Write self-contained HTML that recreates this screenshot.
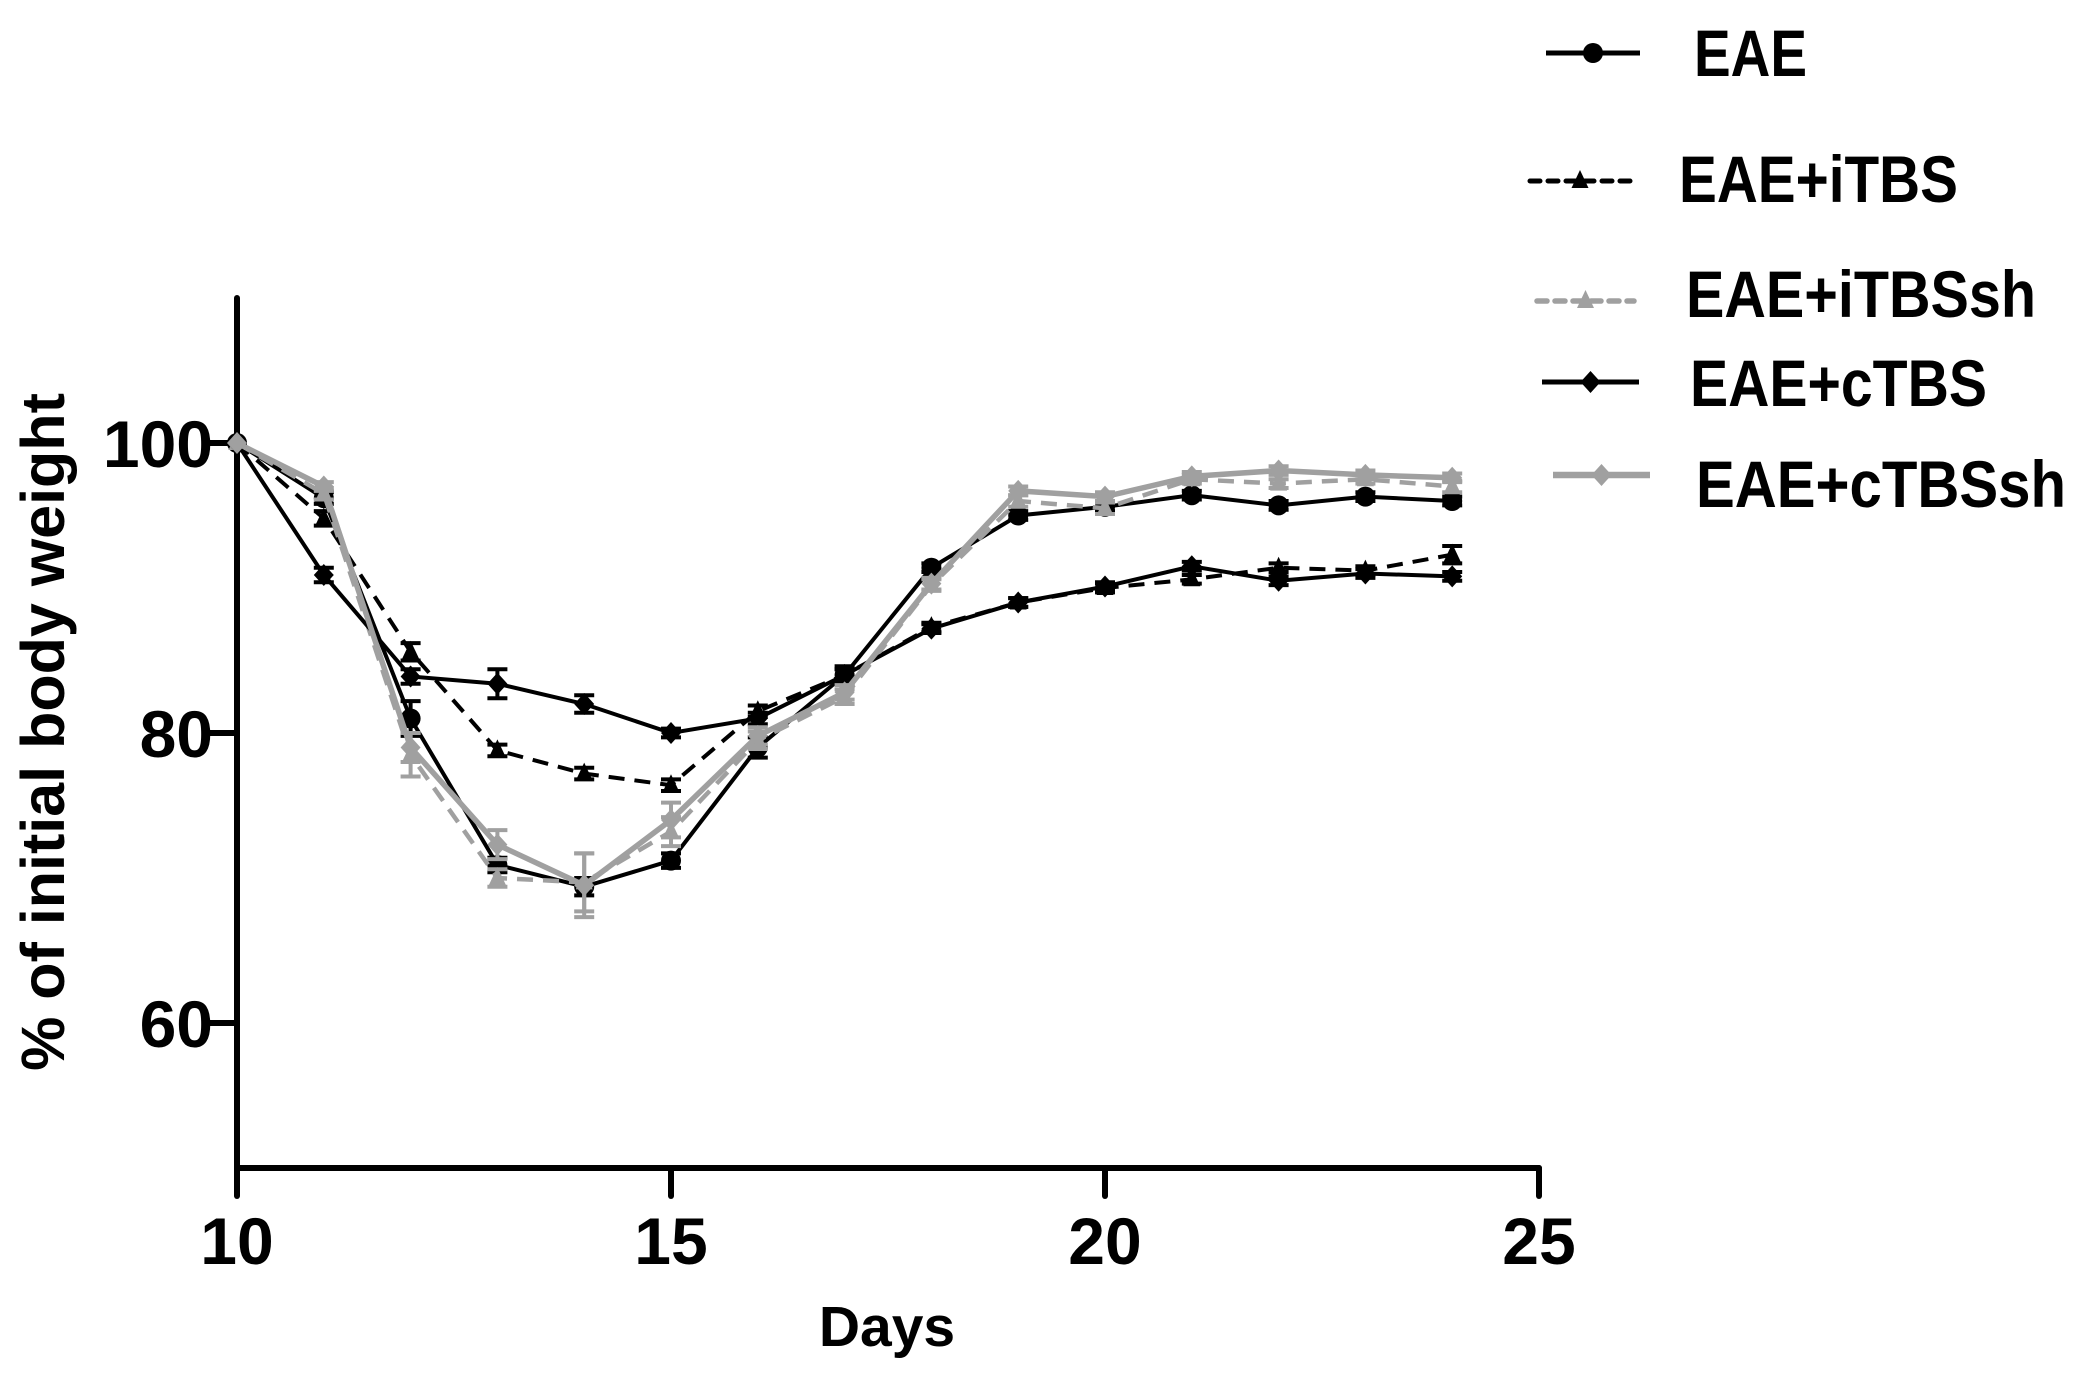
<!DOCTYPE html>
<html><head><meta charset="utf-8"><style>
html,body{margin:0;padding:0;background:#fff;}
svg{display:block;font-family:"Liberation Sans",Arial,sans-serif;font-weight:bold;}
</style></head><body>
<svg id="chart" width="2086" height="1384" viewBox="0 0 2086 1384" xmlns="http://www.w3.org/2000/svg">
<g id="axes"></g>
<g id="series"></g>
<g id="legend"></g>
</svg>
<script>
const days = [10,11,12,13,14,15,16,17,18,19,20,21,22,23,24];
const eae = [100,96.2,81.0,70.9,69.4,71.2,79.0,84.0,91.4,95.0,95.6,96.4,95.7,96.3,96.0];
const eaeErr = [0,0.4,1.2,0.5,0.6,0.5,0.7,0.6,0.3,0.3,0.3,0.3,0.3,0.3,0.3];
const itbs = [100,94.8,85.6,78.8,77.2,76.4,81.5,84.0,87.3,89.0,90.0,90.6,91.4,91.2,92.3];
const itbsErr = [0,0.5,0.6,0.4,0.4,0.4,0.4,0.4,0.3,0.3,0.3,0.3,0.3,0.3,0.6];
const itbssh = [100,96.5,78.5,70.0,69.7,73.2,79.5,82.5,90.2,96.0,95.5,97.5,97.2,97.5,97.0];
const itbsshErr = [0,0.4,1.5,0.6,2.0,1.0,0.6,0.5,0.4,0.4,0.4,0.3,0.3,0.3,0.4];
const ctbs = [100,90.9,83.9,83.4,82.0,80.0,81.0,84.0,87.2,89.0,90.1,91.5,90.5,91.0,90.8];
const ctbsErr = [0,0.5,0.5,1.0,0.6,0.3,0.4,0.4,0.3,0.3,0.3,0.3,0.3,0.3,0.3];
const ctbssh = [100,97.0,79.0,72.3,69.5,74.0,79.8,82.8,90.3,96.7,96.3,97.7,98.1,97.8,97.6];
const ctbsshErr = [0,0.3,1.0,1.0,2.2,1.2,0.6,0.5,0.4,0.3,0.3,0.3,0.3,0.3,0.3];
const xTicks = [10,15,20,25];
const yTicks = [60,80,100];
const seriesNames = ["EAE","EAE+iTBS","EAE+iTBSsh","EAE+cTBS","EAE+cTBSsh"];

const NS="http://www.w3.org/2000/svg";
const X0=237, PXD=86.8, Y100=443, PXU=14.5;
function xs(d){return X0+(d-10)*PXD;}
function ys(v){return Y100-(v-100)*PXU;}
function mk(tag,attrs,parent){const e=document.createElementNS(NS,tag);for(const k in attrs)e.setAttribute(k,attrs[k]);parent.appendChild(e);return e;}

const axes=document.getElementById('axes');
let yl=mk('line',{x1:X0,y1:ys(110),x2:X0,y2:ys(50)+3,stroke:'#000','stroke-width':6,'stroke-linecap':'round'},axes);


let xl=mk('line',{x1:X0,y1:ys(50),x2:xs(25),y2:ys(50),stroke:'#000','stroke-width':6,'stroke-linecap':'round'},axes);


yTicks.forEach(v=>{
  let t=mk('line',{x1:X0-28,y1:ys(v),x2:X0,y2:ys(v),stroke:'#000','stroke-width':6,'stroke-linecap':'round'},axes);
  
  
  let l=mk('text',{x:213,y:ys(v)+24,'font-size':66,'text-anchor':'end'},axes);
  l.textContent=v;
  
  
});
xTicks.forEach(d=>{
  let t=mk('line',{x1:xs(d),y1:ys(50),x2:xs(d),y2:ys(50)+28,stroke:'#000','stroke-width':6,'stroke-linecap':'round'},axes);
  
  
  let l=mk('text',{x:xs(d),y:1264,'font-size':66,'text-anchor':'middle'},axes);
  l.textContent=d;
  
  
});
let xt=mk('text',{x:887,y:1346,'font-size':57,'text-anchor':'middle'},axes);
xt.textContent='Days';


let yt=mk('text',{x:0,y:0,'font-size':61,'text-anchor':'middle',transform:'translate(64,732) rotate(-90)'},axes);
yt.textContent='% of initial body weight';



function marker(g,type,cx,cy,color,s){
  let e;
  if(type==='circle') e=mk('circle',{cx:cx,cy:cy,r:s,fill:color},g);
  else if(type==='tri') e=mk('polygon',{points:`${cx},${cy-s*1.1} ${cx-s*0.85},${cy+s*0.7} ${cx+s*0.85},${cy+s*0.7}`,fill:color},g);
  else e=mk('polygon',{points:`${cx},${cy-s*1.1} ${cx+s},${cy} ${cx},${cy+s*1.1} ${cx-s},${cy}`,fill:color},g);
  return e;
}
const defs=[
 {vals:eae,err:eaeErr,color:'#000',dash:null,m:'circle',w:4,name:'series-eae'},
 {vals:itbs,err:itbsErr,color:'#000',dash:'16 10',m:'tri',w:4,name:'series-eae-itbs'},
 {vals:itbssh,err:itbsshErr,color:'#a0a0a0',dash:'16 10',m:'tri',w:4.5,name:'series-eae-itbssh'},
 {vals:ctbs,err:ctbsErr,color:'#000',dash:null,m:'dia',w:4,name:'series-eae-ctbs'},
 {vals:ctbssh,err:ctbsshErr,color:'#a0a0a0',dash:null,m:'dia',w:5.5,name:'series-eae-ctbssh'}
];
const sroot=document.getElementById('series');
defs.forEach(s=>{
  const g=mk('g',{},sroot);
  
  
  s.vals.forEach((v,i)=>{
    const e=s.err[i]; if(e<=0.05) return;
    const x=xs(days[i]);
    let eb=mk('path',{d:`M${x},${ys(v+e)}V${ys(v-e)}M${x-10},${ys(v+e)}H${x+10}M${x-10},${ys(v-e)}H${x+10}`,stroke:s.color,'stroke-width':4,fill:'none'},g);
    
    
  });
  const pts=s.vals.map((v,i)=>xs(days[i])+','+ys(v)).join(' ');
  const attrs={points:pts,fill:'none',stroke:s.color,'stroke-width':s.w};
  if(s.dash) attrs['stroke-dasharray']=s.dash;
  let pl=mk('polyline',attrs,g);
  
  
  s.vals.forEach((v,i)=>{
    let p=marker(g,s.m,xs(days[i]),ys(v),s.color,10);
    
    
  });
});

const leg=document.getElementById('legend');
const legPos=[
 {x1:1546,x2:1640,y:53,tx:1694,ty:76,tw:113},
 {x1:1530,x2:1630,y:181,tx:1679,ty:202,tw:279},
 {x1:1537,x2:1634,y:301,tx:1686,ty:317,tw:350},
 {x1:1542,x2:1639,y:382,tx:1690,ty:406,tw:297},
 {x1:1553,x2:1650,y:475,tx:1696,ty:507,tw:370}
];
defs.forEach((s,i)=>{
  const p=legPos[i];
  const g=mk('g',{},leg);
  
  
  const a={x1:p.x1,y1:p.y,x2:p.x2,y2:p.y,stroke:s.color,'stroke-width':s.w+1};
  if(s.dash){a['stroke-dasharray']='10 8';a['stroke-linecap']='round';}
  mk('line',a,g);
  marker(g,s.m,(p.x1+p.x2)/2,p.y,s.color,10);
  let t=mk('text',{x:p.tx,y:p.ty,'font-size':66,textLength:p.tw,lengthAdjust:'spacingAndGlyphs'},g);
  t.textContent=seriesNames[i];
  
  
});
</script>
</body></html>
